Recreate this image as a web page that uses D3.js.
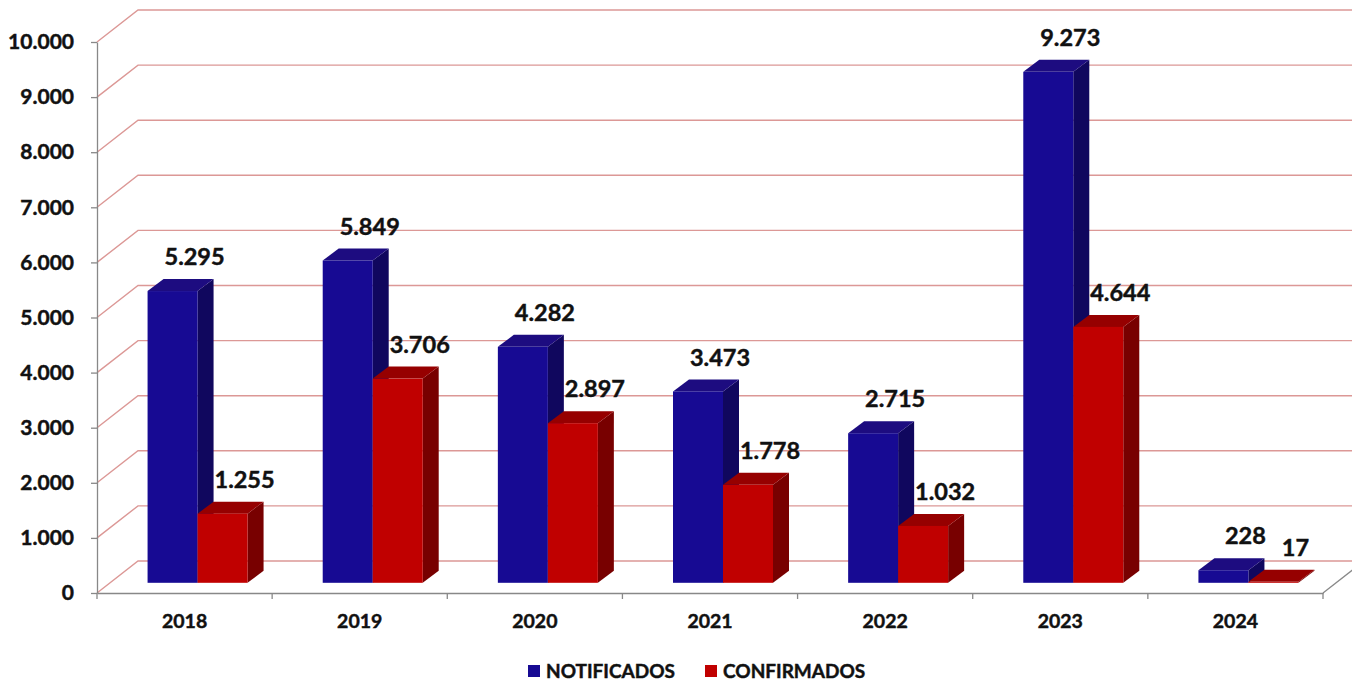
<!DOCTYPE html>
<html><head><meta charset="utf-8">
<script src="https://cdn.jsdelivr.net/npm/d3@7"></script>
<style>
html,body{margin:0;padding:0;background:#fff;}
svg{display:block;font-family:Lato,"Open Sans",sans-serif;}
</style></head>
<body>
<svg id="c" width="1352" height="681"></svg>
<script>
const years = ["2018","2019","2020","2021","2022","2023","2024"];
const notificados = [5295,5849,4282,3473,2715,9273,228];
const confirmados = [1255,3706,2897,1778,1032,4644,17];
const yTicks = [0,1000,2000,3000,4000,5000,6000,7000,8000,9000,10000];
const seriesNames = ["NOTIFICADOS","CONFIRMADOS"];

const colors = {
  NOTIFICADOS:{front:"#170a93", top:"#1d0c80", side:"#10075e"},
  CONFIRMADOS:{front:"#c00000", top:"#960000", side:"#780000"}
};

const svg = d3.select("#c");
const fmt = d3.formatLocale({decimal:",",thousands:".",grouping:[3],currency:["",""]}).format(",d");

const x0 = 97, x1 = 1323;
const x = d3.scaleBand().domain(years).range([x0,x1]);
const y = d3.scaleLinear().domain([0,10000]).range([593,42]);
const xs = d3.scaleBand().domain(seriesNames).range([x.bandwidth()/2-50, x.bandwidth()/2+50]);

const wall = [41,-32];       // back wall depth offset
const barOff = [13,-10.2];   // bars front plane offset
const barD = [16,-12];       // bar depth

function boldText(sel){
  return sel.attr("font-family","Lato").attr("font-weight",700).attr("fill","#111")
    .attr("stroke","#111").attr("stroke-width",0.45);
}

// gridlines (floor diagonal + back wall)
const grid = svg.append("g");
yTicks.forEach(t=>{
  const yy = y(t);
  grid.append("path")
    .attr("d",`M${x0},${yy}L${x0+wall[0]},${yy+wall[1]}L${1370},${yy+wall[1]}`)
    .attr("fill","none").attr("stroke","#dc9896").attr("stroke-width",1.4);
});

// y axis
const yAxis = svg.append("g").attr("transform",`translate(${x0},0)`)
  .call(d3.axisLeft(y).tickValues(yTicks).tickSize(6).tickSizeOuter(0).tickPadding(17).tickFormat(fmt));
yAxis.select(".domain").attr("stroke","#888").attr("stroke-width",1.3);
yAxis.selectAll(".tick line").attr("stroke","#888").attr("stroke-width",1.3);
boldText(yAxis.selectAll(".tick text")).attr("font-size",21);

// x axis
const xAxis = svg.append("g").attr("transform",`translate(0,${y(0)})`)
  .call(d3.axisBottom(x).tickSize(0).tickSizeOuter(0).tickPadding(21));
xAxis.select(".domain").attr("stroke","#888").attr("stroke-width",1.3);
boldText(xAxis.selectAll(".tick text")).attr("font-size",19.5);
const bounds = years.map(d=>x(d)).concat([x1]);
svg.append("g").selectAll("line").data(bounds).join("line")
  .attr("x1",d=>d).attr("x2",d=>d).attr("y1",y(0)).attr("y2",y(0)+6)
  .attr("stroke","#888").attr("stroke-width",1.3);
svg.append("line").attr("x1",x1).attr("y1",y(0)).attr("x2",x1+wall[0]).attr("y2",y(0)+wall[1])
  .attr("stroke","#888").attr("stroke-width",1.3);

// bars
const bars = svg.append("g");
const labels = svg.append("g");
years.forEach((yr,i)=>{
  [[seriesNames[0],notificados[i]],[seriesNames[1],confirmados[i]]].forEach(([s,v])=>{
    const c = colors[s];
    const L = x(yr)+xs(s)+barOff[0], R = L+xs.bandwidth();
    const B = y(0)+barOff[1], T = y(v)+barOff[1];
    const [dx,dy] = barD;
    bars.append("path").attr("d",`M${R},${T}L${R+dx},${T+dy}L${R+dx},${B+dy}L${R},${B}Z`).attr("fill",c.side);
    bars.append("path").attr("d",`M${L},${T}L${L+dx},${T+dy}L${R+dx},${T+dy}L${R},${T}Z`).attr("fill",c.top);
    bars.append("rect").attr("x",L).attr("y",T).attr("width",R-L).attr("height",Math.max(0,B-T)).attr("fill",c.front);
    boldText(labels.append("text")).attr("x",(L+R)/2+22).attr("y",T-34).attr("dy","0.35em")
      .attr("text-anchor","middle").attr("font-size",23.5).text(fmt(v));
  });
});

// legend
const leg = svg.append("g");
const legX = [528,705];
seriesNames.forEach((s,i)=>{
  leg.append("rect").attr("x",legX[i]).attr("y",665).attr("width",12).attr("height",12).attr("fill",colors[s].front);
  boldText(leg.append("text")).attr("x",legX[i]+18).attr("y",677.5).attr("font-size",19).text(s);
});
</script>
</body></html>
